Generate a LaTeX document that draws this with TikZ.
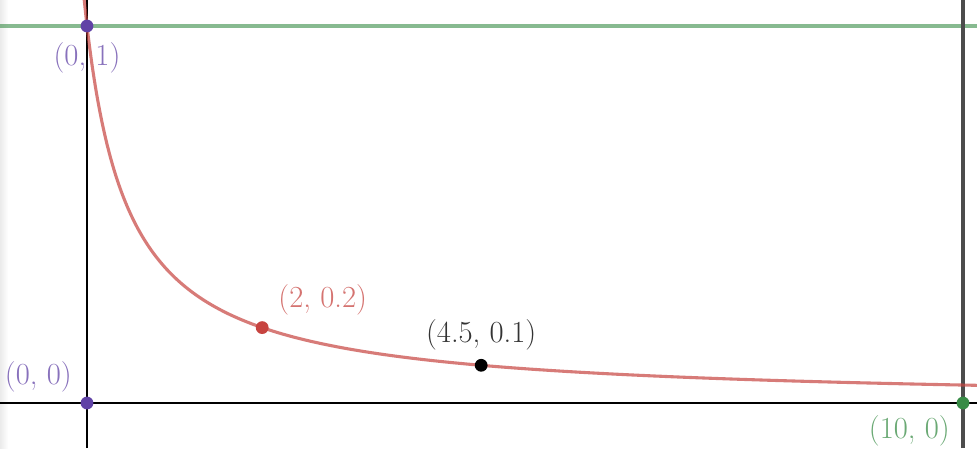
\documentclass[tikz,border=0pt]{standalone}
\usepackage{fontspec}
\usetikzlibrary{positioning}
\definecolor{dpurple}{HTML}{6042A6}
\definecolor{dred}{HTML}{C74440}
\definecolor{dgreen}{HTML}{388C46}
\tikzset{
  lbl/.style={inner sep=0pt,font=\fontsize{21.8}{24}\selectfont},
  dot/.style={x radius=.16cm,y radius=.16cm}
}
\begin{document}
\begin{tikzpicture}[x=2.19cm,y=9.425cm]
    \useasboundingbox (-0.99315,-0.11936) rectangle (10.1598,1.06897);
    \fill[white] (-0.99315,-0.11936) rectangle (10.1598,1.06897);
    \shade[left color=black!8,right color=white] (-0.99315,-0.11936) rectangle (-0.9,1.06897);
    % lines
    \draw[dgreen,opacity=.6,line width=2.4pt] (-0.99315,1)--(10.1598,1);
    \draw[line width=1.3pt] (-0.99315,0)--(10.1598,0);
    \draw[line width=1.3pt] (0,-0.11936)--(0,1.06897);
    \draw[black!70,line width=2.4pt] (10,-0.11936)--(10,1.06897);
    \begin{scope}
      \clip (-0.99315,-0.11936) rectangle (10.1598,1.06897);
      \draw[dred,opacity=.7,line width=2.2pt,smooth,samples=200,domain=-0.045:10.2]
        plot(\x,{1/(1+2*\x)});
    \end{scope}
    % points
    \coordinate (p01) at (0,1);
    \coordinate (p00) at (0,0);
    \coordinate (p100) at (10,0);
    \coordinate (p2) at (2,0.2);
    \coordinate (p45) at (4.5,0.1);
    \foreach \p in {p01,p00}
    \fill[dpurple] (\p) circle[dot];
    \fill[dgreen] (p100) circle[dot];
    \fill[dred] (p2) circle[dot];
    \fill[black] (p45) circle[dot];
    % labels
    \node[lbl,text=dpurple!75,below=0.4cm of p01] (l01) {(0, 1)};
    \node[lbl,text=dpurple!75,above left=0.275cm and 0.375cm of p00] (l00) {(0, 0)};
    \node[lbl,text=dgreen!75,below left=0.3cm and 0.325cm of p100] (l100) {(10, 0)};
    \node[lbl,text=dred!75,above right=0.3cm and 0.4cm of p2] (l2) {(2, 0.2)};
    \node[lbl,text=black!80,above=0.375cm of p45] (l45) {(4.5, 0.1)};
  \end{tikzpicture}
\end{document}
